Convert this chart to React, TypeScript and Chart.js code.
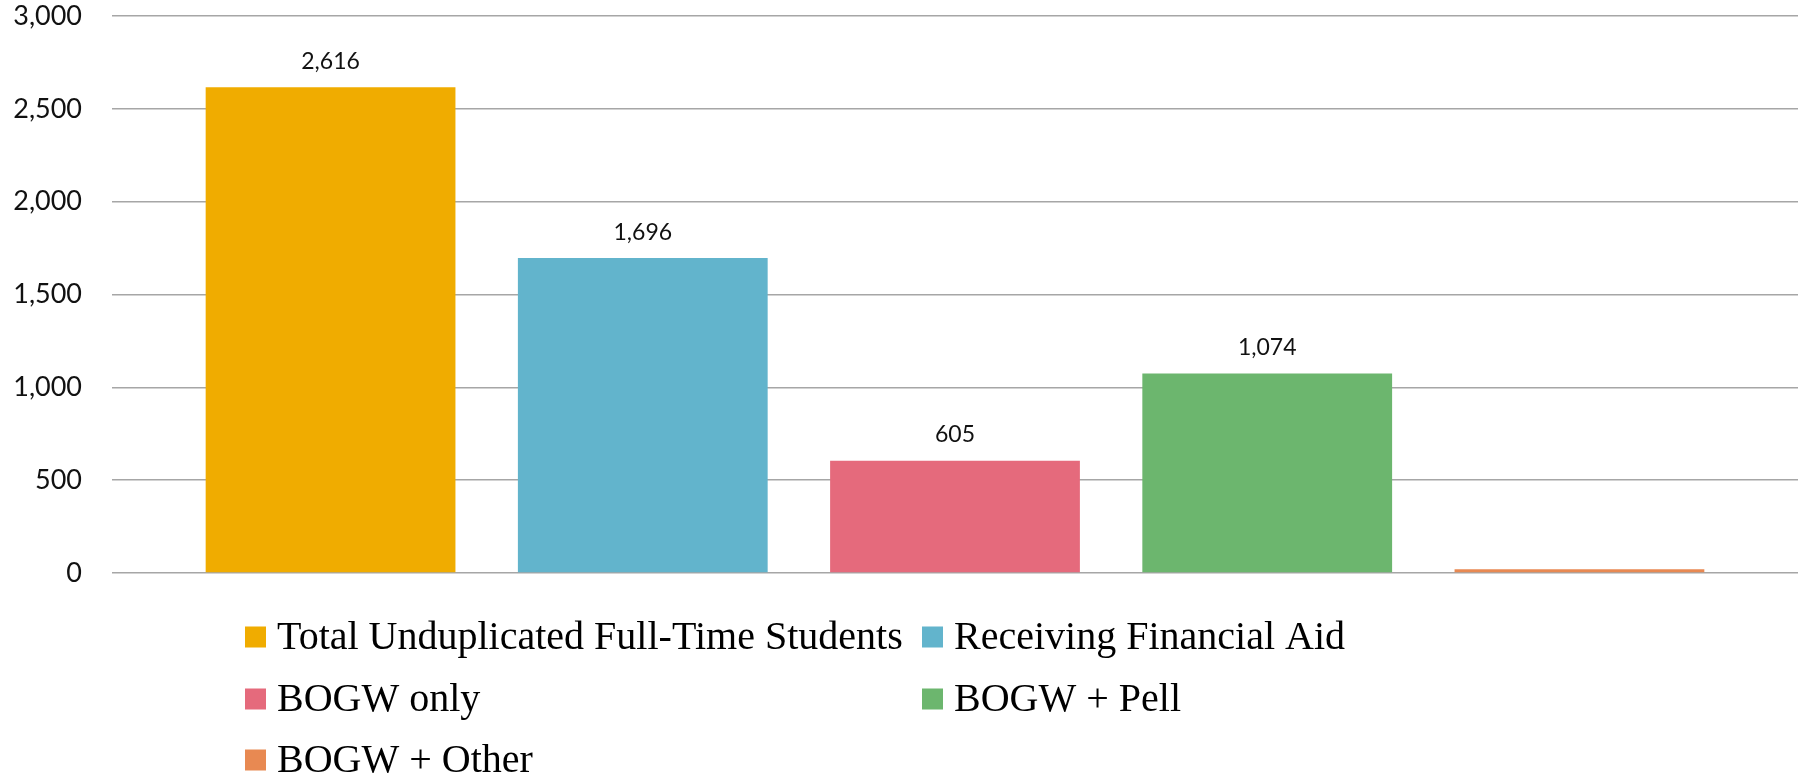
import React, { useEffect, useRef } from "react";
import { Chart, registerables } from "chart.js";

Chart.register(...registerables);

// ---- Data ----
const categories = [
  "Total Unduplicated Full-Time Students",
  "Receiving Financial Aid",
  "BOGW only",
  "BOGW + Pell",
  "BOGW + Other",
];
const values = [2616, 1696, 605, 1074, 20];
const barColors = ["#F0AC00", "#62B4CC", "#E56A7C", "#6CB66E", "#E88952"];
const showValueLabel = [true, true, true, true, false];
const yTickValues = [0, 500, 1000, 1500, 2000, 2500, 3000];

const W = 1806;
const H = 774;

const valueLabelPlugin = {
  id: "valueLabels",
  afterDatasetsDraw(chart: any) {
    const ctx = chart.ctx;
    const meta = chart.getDatasetMeta(0);
    ctx.save();
    ctx.font = "23px Lato";
    ctx.fillStyle = "#111111";
    ctx.textAlign = "center";
    ctx.textBaseline = "middle";
    meta.data.forEach((bar: any, i: number) => {
      if (!showValueLabel[i]) return;
      ctx.fillText(values[i].toLocaleString("en-US"), bar.x, bar.y - 26);
    });
    ctx.restore();
  },
};

const gridLegendPlugin = {
  id: "gridLegend",
  afterDraw(chart: any) {
    const ctx = chart.ctx;
    const colX = [245, 922];
    const rowY = [637, 699, 760];
    const box = 21;
    ctx.save();
    ctx.font = "40px 'Liberation Serif'";
    ctx.textAlign = "left";
    ctx.textBaseline = "middle";
    categories.forEach((label, i) => {
      const col = i % 2;
      const row = Math.floor(i / 2);
      const x = colX[col];
      const y = rowY[row];
      ctx.fillStyle = barColors[i];
      ctx.fillRect(x, y - box / 2, box, box);
      ctx.fillStyle = "#000000";
      ctx.fillText(label, x + 32, y + 1);
    });
    ctx.restore();
  },
};

export default function App() {
  const canvasRef = useRef<HTMLCanvasElement | null>(null);

  useEffect(() => {
    if (!canvasRef.current) return;
    const chart = new Chart(canvasRef.current, {
      type: "bar",
      data: {
        datasets: [
          {
            label: "Students",
            data: values.map((v, i) => ({ x: i, y: v })),
            backgroundColor: barColors,
            borderWidth: 0,
            barPercentage: 1.0,
            categoryPercentage: 0.8,
          },
        ],
      },
      options: {
        responsive: false,
        animation: false,
        layout: { padding: { left: 0, right: 8, top: 16, bottom: 201 } },
        plugins: {
          legend: { display: false },
          tooltip: { enabled: false },
          title: { display: false },
        },
        scales: {
          x: {
            type: "linear",
            min: -0.7,
            max: 4.7,
            display: false,
            offset: false,
            afterBuildTicks(scale: any) {
              scale.ticks = values.map((_, i) => ({ value: i }));
            },
          },
          y: {
            min: 0,
            max: 3000,
            afterBuildTicks(scale: any) {
              scale.ticks = yTickValues.map((v) => ({ value: v }));
            },
            afterFit(scale: any) {
              scale.width = 112;
              scale.paddingTop = 0;
              scale.paddingBottom = 0;
            },
            border: { display: false },
            grid: {
              color: "#A6A6A6",
              lineWidth: 1.5,
              drawTicks: false,
            },
            ticks: {
              padding: 30,
              color: "#111111",
              font: { family: "Lato", size: 27 },
              callback: (v: any) => Number(v).toLocaleString("en-US"),
            },
          },
        },
      },
      plugins: [valueLabelPlugin, gridLegendPlugin],
    });
    return () => chart.destroy();
  }, []);

  return (
    <div style={{ position: "absolute", left: 0, top: 0, width: W, height: H, background: "#ffffff" }}>
      <canvas ref={canvasRef} width={W} height={H} style={{ display: "block" }} />
    </div>
  );
}
